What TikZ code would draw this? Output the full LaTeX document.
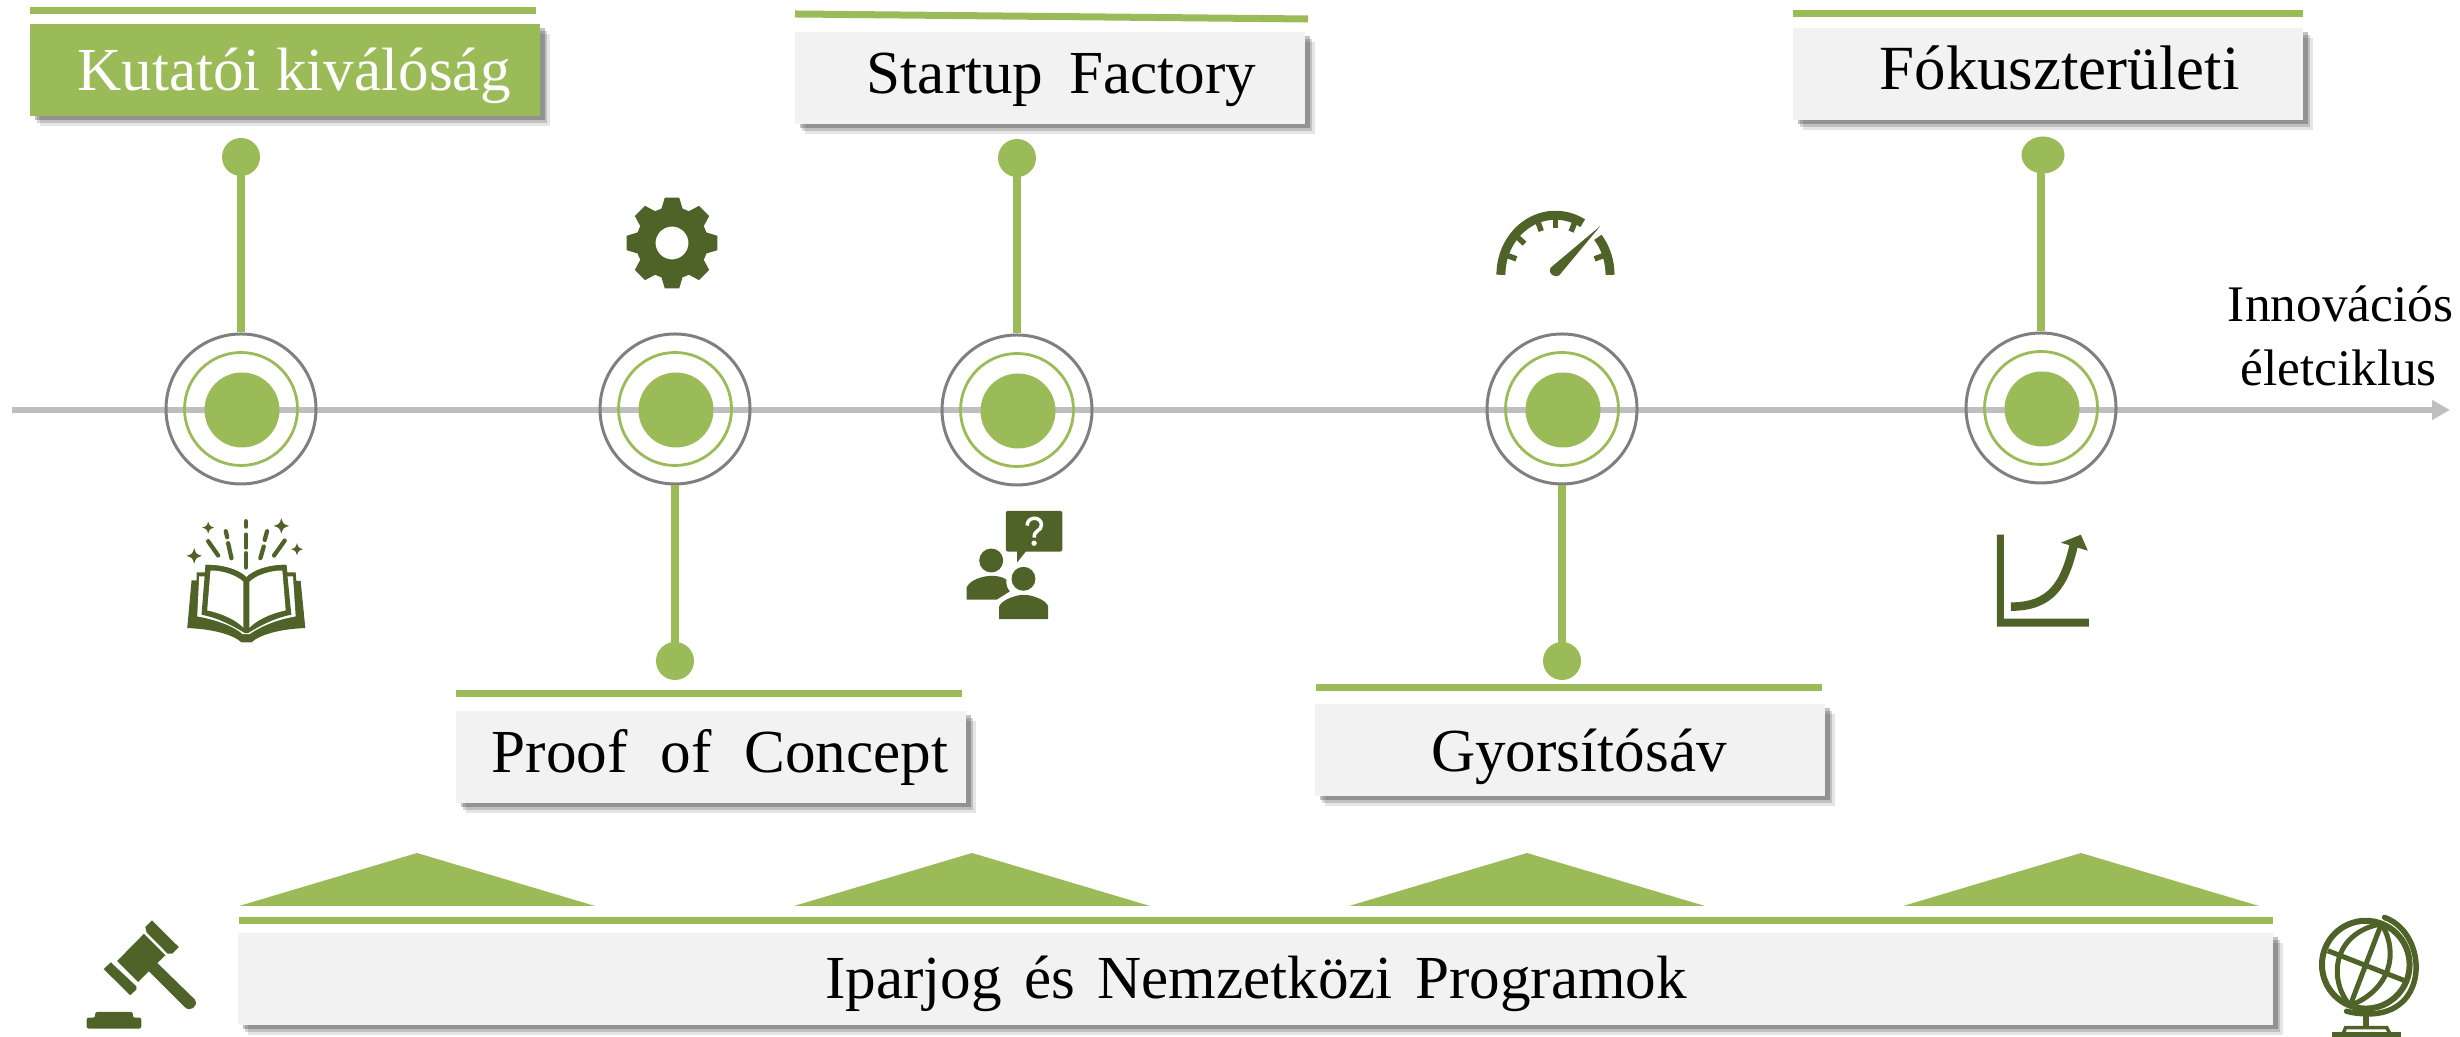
\documentclass[tikz,border=0pt]{standalone}
\usepackage{fontspec}
\setmainfont{Liberation Serif}
\usetikzlibrary{arrows.meta, shadows, shapes.geometric}

\definecolor{leafgreen}{HTML}{9BBB59}
\definecolor{mossgreen}{HTML}{4F6228}
\definecolor{boxgray}{HTML}{F2F2F2}
\definecolor{axisgray}{HTML}{BFBFBF}
\definecolor{ringgray}{HTML}{7F7F7F}

\tikzset{
    softshadow/.style={
        general shadow={fill=black, opacity=.10, shadow xshift=.10cm, shadow yshift=-.10cm},
        general shadow={fill=black, opacity=.16, shadow xshift=.07cm, shadow yshift=-.07cm},
        general shadow={fill=black, opacity=.24, shadow xshift=.045cm, shadow yshift=-.045cm}},
    titlebox/.style={rectangle, fill=boxgray, inner sep=0pt, outer sep=0pt, softshadow},
    titletext/.style={anchor=base, inner sep=0pt, font=\fontsize{17.4}{20}\selectfont},
    greenbar/.style={leafgreen, line width=.07cm},
    axisline/.style={axisgray, line width=.058cm, -{Triangle[length=.18cm, width=.19cm]}},
    outerring/.style={circle, draw=ringgray, line width=.03cm, minimum size=1.50cm, inner sep=0pt},
    middlering/.style={circle, draw=leafgreen, line width=.028cm, minimum size=1.13cm, inner sep=0pt},
    innerdisc/.style={circle, fill=leafgreen, minimum size=.75cm, inner sep=0pt},
    pindot/.style={circle, fill=leafgreen, minimum size=.38cm, inner sep=0pt},
    pinstem/.style={leafgreen, line width=.072cm},
}

% four pointed star of the book icon
\newcommand{\bookstar}[3]{
    \fill[mossgreen] (#1,#2-#3) .. controls (#1+.25*#3,#2-.25*#3) .. (#1+#3,#2)
        .. controls (#1+.25*#3,#2+.25*#3) .. (#1,#2+#3)
        .. controls (#1-.25*#3,#2+.25*#3) .. (#1-#3,#2)
        .. controls (#1-.25*#3,#2-.25*#3) .. cycle;
}

\begin{document}
\begin{tikzpicture}

    \useasboundingbox (0,0) rectangle (24.6,10.37);

    % Axis
    \coordinate (axisstart) at (0.115,6.27);
    \coordinate (axisend) at (24.5,6.27);
    \draw[axisline] (axisstart) -- (axisend);

    % Rings on the axis
    \foreach \i/\x/\y in {1/2.41/6.28, 2/6.75/6.28, 3/10.17/6.27, 4/15.62/6.28, 5/20.41/6.29} {
        \node[outerring] (ring\i) at (\x,\y) {};
        \node[middlering] (mid\i) at (\x,\y) {};
        \node[innerdisc] (disc\i) at (\x+.01,\y-.01) {};
    }

    % Pins
    \node[pindot] (pin1) at (2.41,8.80) {};
    \node[pindot] (pin2) at (6.75,3.76) {};
    \node[pindot] (pin3) at (10.17,8.79) {};
    \node[pindot] (pin4) at (15.62,3.76) {};
    \node[ellipse, fill=leafgreen, minimum width=.43cm, minimum height=.37cm, inner sep=0pt] (pin5) at (20.43,8.82) {};
    \draw[pinstem] (ring1.north) -- (pin1.center);
    \draw[pinstem] (ring2.south) -- (pin2.center);
    \draw[pinstem] (ring3.north) -- (pin3.center);
    \draw[pinstem] (ring4.south) -- (pin4.center);
    \draw[pinstem] (ring5.north) -- (ring5.north |- pin5.center);

    % Kutatoi kivalosag
    \draw[greenbar] (0.30,10.26) -- (5.36,10.26);
    \node[titlebox, fill=leafgreen, minimum width=5.10cm, minimum height=.92cm] (kutatoi) at (2.85,9.67) {};
    \node[titletext, text=white] (kutatoilabel) at (2.94,9.46) {Kutatói kiválóság};

    % Startup Factory
    \draw[greenbar] (7.95,10.23) -- (13.08,10.18);
    \node[titlebox, minimum width=5.10cm, minimum height=.92cm] (startup) at (10.50,9.59) {};
    \node[titletext] (startuplabel) at (10.615,9.43) {Startup\hspace{3pt} Factory};

    % Fokuszteruleti
    \draw[greenbar] (17.93,10.23) -- (23.03,10.23);
    \node[titlebox, minimum width=5.10cm, minimum height=.92cm] (fokusz) at (20.48,9.63) {};
    \node[titletext, font=\fontsize{17.9}{20}\selectfont] (fokuszlabel) at (20.595,9.47) {Fókuszterületi};

    % Proof of Concept
    \draw[greenbar] (4.56,3.43) -- (9.62,3.43);
    \node[titlebox, minimum width=5.10cm, minimum height=.92cm] (proof) at (7.11,2.80) {};
    \node[titletext] (prooflabel) at (7.20,2.64) {Proof\hspace{5pt} of\hspace{5pt} Concept};

    % Gyorsitosav
    \draw[greenbar] (13.16,3.49) -- (18.22,3.49);
    \node[titlebox, minimum width=5.10cm, minimum height=.92cm] (gyors) at (15.70,2.87) {};
    \node[titletext] (gyorslabel) at (15.79,2.65) {Gyorsítósáv};

    % Iparjog
    \foreach \x in {2.39, 7.94, 13.49, 19.03} {
        \fill[leafgreen] (\x,1.31) -- (\x+1.78,1.84) -- (\x+3.56,1.31) -- cycle;
    }
    \draw[greenbar] (2.385,1.165) -- (22.73,1.165);
    \node[titlebox, minimum width=20.35cm, minimum height=.92cm] (iparjog) at (12.555,.58) {};
    \node[titletext] (iparjoglabel) at (12.56,.38) {Iparjog\hspace{2pt} és\hspace{2pt} Nemzetközi\hspace{2pt} Programok};

    % Innovacios eletciklus
    \node[titletext, font=\fontsize{14.6}{17}\selectfont] (innovlabel) at (23.405,7.15) {Innovációs};
    \node[titletext, font=\fontsize{14.6}{17}\selectfont] (eletlabel) at (23.385,6.51) {életciklus};

    % Gear
    \begin{scope}[shift={(6.72,7.94)}, x=.01cm, y=-.01cm]
        \fill[mossgreen, even odd rule]
            (-17:36) -- (-9:46) -- (9:46) -- (17:36)
            \foreach \a in {45,90,135,180,225,270,315} {
                -- (\a-17:36) -- (\a-9:46) -- (\a+9:46) -- (\a+17:36)
            } -- cycle
            (0,0) circle (16.5);
    \end{scope}

    % Book
    \begin{scope}[shift={(1.40,5.37)}, x=.00333cm, y=-.00333cm]
        \fill[mossgreen] (155,242) -- (170,242) -- (170,218) -- (197,218) -- (197,195)
            .. controls (250,195) and (295,208) .. (320,232)
            .. controls (345,208) and (390,195) .. (440,195)
            -- (443,218) -- (468,218) -- (470,243) -- (483,243) -- (497,385)
            .. controls (420,388) and (360,405) .. (335,428) -- (305,428)
            .. controls (280,405) and (220,388) .. (142,385) -- cycle;
        \fill[white] (178,230) -- (172,350) .. controls (240,362) and (290,385) .. (308,403)
            -- (330,403) .. controls (355,385) and (400,362) .. (468,350) -- (460,230) -- cycle;
        \fill[mossgreen] (197,195) .. controls (250,195) and (295,208) .. (320,232)
            .. controls (345,208) and (390,195) .. (440,195)
            -- (455,345) .. controls (400,355) and (350,385) .. (325,400) -- (315,400)
            .. controls (290,385) and (240,355) .. (185,345) -- cycle;
        \fill[white] (212,212) -- (202,332) .. controls (250,342) and (290,362) .. (311,384)
            -- (311,246) .. controls (290,226) and (250,212) .. (212,212) -- cycle;
        \fill[white] (329,246) .. controls (350,226) and (390,212) .. (428,212)
            -- (438,332) .. controls (390,342) and (350,362) .. (329,384) -- cycle;
        \foreach \xa/\ya/\xb/\yb in {319/64/319/80, 319/104/319/143, 319/160/319/203,
                258/94/262/112, 265/130/275/175, 205/124/235/167,
                382/94/375/120, 372/140/362/175, 435/122/403/167} {
            \draw[mossgreen, line width=.043cm, line cap=round] (\xa,\ya) -- (\xb,\yb);
        }
        \bookstar{205}{83}{18}
        \bookstar{163}{168}{23}
        \bookstar{425}{78}{23}
        \bookstar{472}{148}{18}
    \end{scope}

    % People with question
    \begin{scope}[shift={(9.30,5.47)}, x=.00333cm, y=-.00333cm]
        \fill[mossgreen, rounded corners=.02cm] (228,63) rectangle (398,185);
        \fill[mossgreen] (262,180) -- (262,218) -- (292,180) -- cycle;
        \draw[white, line width=.035cm] (292,107) .. controls (292,78) and (335,78) .. (335,105)
            .. controls (335,125) and (313,118) .. (313,143);
        \fill[white] (313,160) circle (8);
        \fill[mossgreen] (184,212) circle (36);
        \fill[mossgreen] (281,267) circle (36);
        \fill[mossgreen] (110,330) -- (110,293) .. controls (120,270) and (160,258) .. (185,258)
            .. controls (205,258) and (222,263) .. (230,270)
            .. controls (228,285) and (232,295) .. (240,305) -- (200,330) -- cycle;
        \fill[mossgreen] (208,388) -- (208,350) .. controls (215,330) and (260,315) .. (282,315)
            .. controls (305,315) and (350,330) .. (355,350) -- (355,388) -- cycle;
    \end{scope}

    % Gauge
    \begin{scope}[shift={(14.60,8.47)}, x=.00333cm, y=-.00333cm]
        \draw[mossgreen, line width=.09cm, domain=180:300, samples=40, variable=\t]
            plot ({287+164*cos(\t)},{255+179*sin(\t)});
        \draw[mossgreen, line width=.09cm, domain=321:360, samples=20, variable=\t]
            plot ({287+164*cos(\t)},{255+179*sin(\t)});
        \foreach \a in {200,222,250,270,292,340} {
            \draw[mossgreen, line width=.055cm]
                ({287+155*cos(\a)},{255+170*sin(\a)}) -- ({287+125*cos(\a)},{255+140*sin(\a)});
        }
        \fill[mossgreen] (422,108) -- (298,257) .. controls (285,266) and (262,250) .. (272,234) -- cycle;
    \end{scope}

    % Growth chart
    \begin{scope}[shift={(0,10.37)}, x=.01cm, y=-.01cm]
        \fill[mossgreen] (1998,535) -- (2005,535) -- (2005,619) -- (2090,619) -- (2090,627) -- (1998,627) -- cycle;
        \draw[mossgreen, line width=.085cm] (2012,607) .. controls (2052,607) and (2066,585) .. (2075,545);
        \fill[mossgreen] (2082,535) -- (2062,543) -- (2089,551) -- cycle;
    \end{scope}

    % Gavel
    \begin{scope}[shift={(0,2.17)}, x=.004464cm, y=-.00333cm]
        \fill[mossgreen] (322,342) -- (370,407) -- (352,430) -- (436,540)
            .. controls (445,560) and (425,580) .. (413,562) -- (333,455) -- (309,487) -- (262,424) -- cycle;
        \fill[mossgreen] (340,302) -- (400,382) -- (385,402) -- (375,402) -- (328,338) -- (325,322) -- cycle;
        \fill[mossgreen] (248,428) -- (305,500) -- (305,510) -- (291,527) -- (232,448) -- cycle;
        \fill[mossgreen, rounded corners=.02cm] (213,577) -- (297,577) -- (297,594) -- (316,594) -- (316,627)
            -- (194,627) -- (194,594) -- (213,594) -- cycle;
    \end{scope}

    % Globe
    \begin{scope}[shift={(17.60,2.17)}, x=.004464cm, y=-.00333cm]
        \draw[mossgreen, line width=.06cm] (1355,435) ellipse [x radius=98, y radius=132];
        \draw[mossgreen, line width=.05cm] (1390,312) -- (1320,558);
        \draw[mossgreen, line width=.05cm] (1270,393) -- (1440,482);
        \draw[mossgreen, line width=.05cm] (1390,312) .. controls (1280,340) and (1270,480) .. (1320,558);
        \draw[mossgreen, line width=.05cm] (1390,312) .. controls (1430,400) and (1410,510) .. (1320,558);
        \draw[mossgreen, line width=.055cm, line cap=round] (1397,293)
            .. controls (1495,340) and (1500,590) .. (1355,583) .. controls (1340,582) and (1325,580) .. (1312,575);
        \draw[mossgreen, line width=.06cm] (1355,590) -- (1355,625);
        \draw[mossgreen, line width=.035cm] (1305,640) -- (1310,624) -- (1402,624) -- (1408,640);
        \fill[mossgreen] (1280,638) rectangle (1433,651);
    \end{scope}

\end{tikzpicture}
\end{document}
